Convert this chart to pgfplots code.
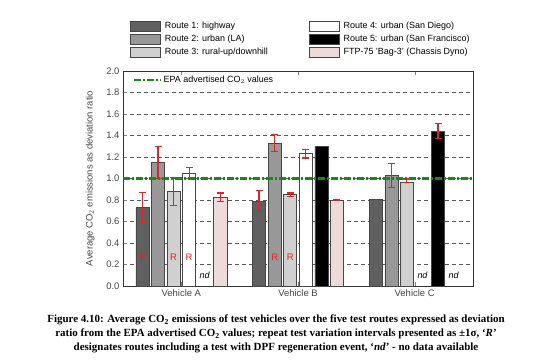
\documentclass[border=0pt]{standalone}
\usepackage{pgfplots}
\pgfplotsset{compat=1.18}
\usepackage{fontspec}
\setmainfont{Liberation Sans}
\newfontfamily\capfont{Liberation Serif}
\definecolor{rA}{RGB}{96,96,96}
\definecolor{rB}{RGB}{152,152,152}
\definecolor{rC}{RGB}{208,208,208}
\definecolor{rD}{RGB}{255,255,255}
\definecolor{rE}{RGB}{0,0,0}
\definecolor{rF}{RGB}{238,218,218}
\definecolor{edge}{RGB}{70,70,70}
\definecolor{epa}{RGB}{20,140,20}
\definecolor{rred}{RGB}{225,35,35}
\definecolor{lbl}{RGB}{70,70,70}
\pgfplotsset{
  mybar/.style={ybar, bar width=0.112, bar shift=0, draw=edge, line width=0.6bp,
    legend image code/.code={\draw[##1] (0bp,-5bp) rectangle (30bp,5bp);}},
  myerr/.style={forget plot, rred, line width=1.2bp, mark=-, mark size=3.5bp,
    mark options={solid, rred, line width=1.2bp}, unbounded coords=jump},
}
\begin{document}
\begin{tikzpicture}[x=1bp,y=1bp]
\useasboundingbox (0,0) rectangle (550,361);
\begin{axis}[
  at={(123bp,75bp)}, anchor=south west,
  width=350bp, height=215bp, scale only axis,
  xmin=-0.5, xmax=2.5, ymin=0, ymax=2,
  xtick={0,1,2}, xticklabels={Vehicle A,Vehicle B,Vehicle C},
  ytick={0,0.2,...,2.0},
  yticklabel style={/pgf/number format/.cd, fixed, fixed zerofill, precision=1},
  /pgf/number format/assume math mode=true,
  ytick pos=left, xtick pos=both, tick align=inside,
  major tick length=4bp,
  tick label style={font=\fontsize{9.5}{11}\selectfont\color{lbl}},
  ymajorgrids, grid style={black!65, line width=0.6bp, dash pattern=on 4bp off 3bp},
  ylabel={Average CO$_2$ emissions as deviation ratio},
  ylabel style={font=\fontsize{9.5}{11}\selectfont\color{lbl}, at={(axis description cs:-0.094,0.5)}, anchor=center},
  axis line style={black!80, line width=0.6bp},
  legend columns=2,
  legend cell align=left,
  legend style={at={(axis description cs:0.012,1.243)}, anchor=north west, draw=none, fill=none,
    font=\fontsize{9}{10}\selectfont, row sep=2bp,
    nodes={inner sep=1bp, text height=7bp, text depth=2bp},
    /tikz/column 2/.style={column sep=40bp},
    /tikz/every odd column/.append style={column sep=3bp}},
]
% bars (x = vehicle index + route offset)
\addplot[mybar, fill=rA] coordinates {(-0.334,0.73) (0.666,0.79) (1.666,0.806)};
\addplot[mybar, fill=rD] coordinates {(0.067,1.05) (1.067,1.23)};
\addplot[mybar, fill=rB] coordinates {(-0.2,1.15) (0.8,1.33) (1.8,1.03)};
\addplot[mybar, fill=rE] coordinates {(1.2,1.295) (2.2,1.44)};
\addplot[mybar, fill=rC] coordinates {(-0.067,0.88) (0.933,0.85) (1.933,0.965)};
\addplot[mybar, fill=rF] coordinates {(0.334,0.825) (1.334,0.80)};
\legend{Route 1: highway, Route 4: urban (San Diego), Route 2: urban (LA), Route 5: urban (San Francisco), Route 3: rural-up/downhill, FTP-75 'Bag-3' (Chassis Dyno)}
% error bars (repeat test variation, +-1 sigma): lower and upper ends
\addplot[myerr] coordinates {
 (-0.334,0.59) (-0.334,0.87) (nan,nan)
 (0.666,0.69) (0.666,0.89) (nan,nan)
 (0.067,1.00) (0.067,1.10) (nan,nan)
 (1.067,1.19) (1.067,1.27) (nan,nan)
 (-0.2,1.00) (-0.2,1.30) (nan,nan)
 (0.8,1.25) (0.8,1.41) (nan,nan)
 (1.8,0.92) (1.8,1.14) (nan,nan)
 (2.2,1.37) (2.2,1.51) (nan,nan)
 (-0.067,0.75) (-0.067,1.01) (nan,nan)
 (0.933,0.835) (0.933,0.865) (nan,nan)
 (1.933,0.96) (1.933,0.995) (nan,nan)
 (0.334,0.785) (0.334,0.865) (nan,nan)
 (1.334,0.796) (1.334,0.804)
};
% annotations
\node[text=rred, font=\fontsize{9.5}{11}\selectfont] at (axis cs:-0.334,0.27) {R};
\node[text=rred, font=\fontsize{9.5}{11}\selectfont] at (axis cs:-0.067,0.27) {R};
\node[text=rred, font=\fontsize{9.5}{11}\selectfont] at (axis cs:0.067,0.27) {R};
\node[text=rred, font=\fontsize{9.5}{11}\selectfont] at (axis cs:0.8,0.27) {R};
\node[text=rred, font=\fontsize{9.5}{11}\selectfont] at (axis cs:0.933,0.27) {R};
\node[font=\fontsize{9}{11}\selectfont\itshape] at (axis cs:0.2,0.095) {nd};
\node[font=\fontsize{9}{11}\selectfont\itshape] at (axis cs:2.067,0.095) {nd};
\node[font=\fontsize{9}{11}\selectfont\itshape] at (axis cs:2.334,0.095) {nd};
\end{axis}
\begin{axis}[
  at={(123bp,75bp)}, anchor=south west,
  width=350bp, height=215bp, scale only axis,
  xmin=-0.5, xmax=2.5, ymin=0, ymax=2, hide axis,
  legend style={at={(axis description cs:0.02,0.958)}, anchor=west, draw=none, fill=none,
    font=\fontsize{9}{10}\selectfont, nodes={inner sep=1bp}},
  legend image code/.code={\draw[#1] (0bp,0bp) -- (27bp,0bp);},
]
\addplot[epa, line width=2.4bp, dash pattern=on 7bp off 2bp on 2bp off 2bp] coordinates {(-0.5,1) (2.5,1)};
\legend{EPA advertised CO$_2$ values}
\end{axis}
\node[font=\capfont\bfseries\fontsize{11}{14}\selectfont, align=center] at (276,27)
{Figure 4.10: Average CO\textsubscript{2} emissions of test vehicles over the five test routes expressed as deviation\\
ratio from the EPA advertised CO\textsubscript{2} values; repeat test variation intervals presented as ±1σ, ‘\textit{R}’\\
designates routes including a test with DPF regeneration event, ‘\textit{nd}’ - no data available};
\end{tikzpicture}
\end{document}
